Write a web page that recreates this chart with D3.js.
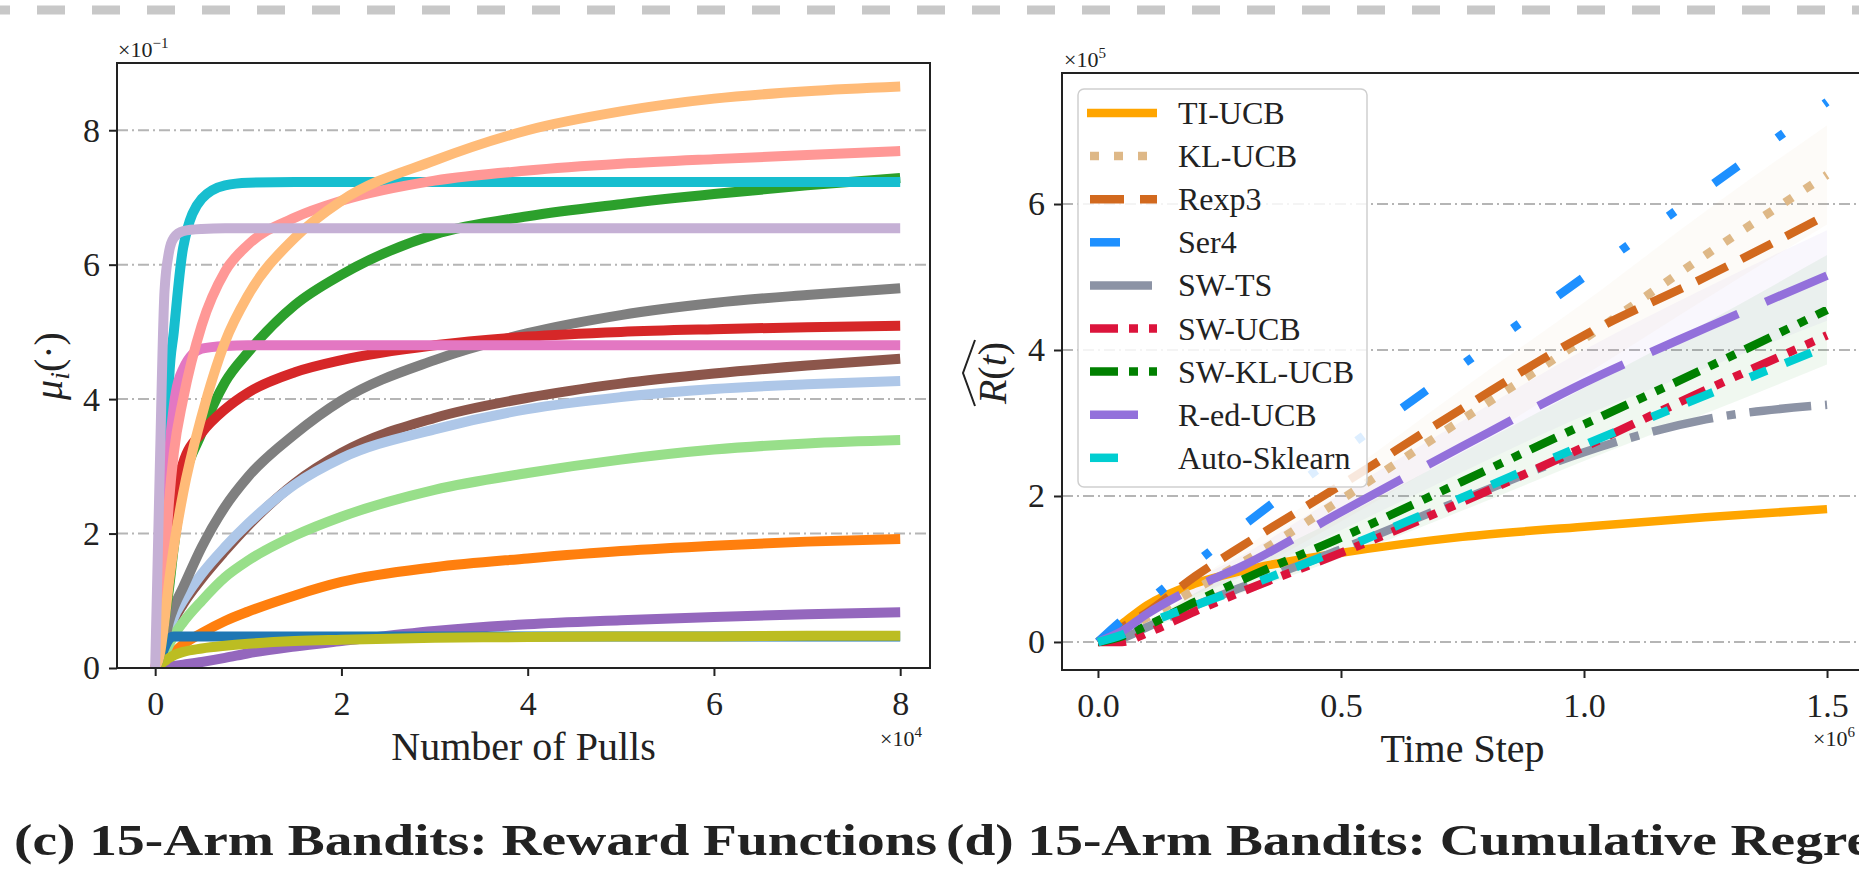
<!DOCTYPE html>
<html><head><meta charset="utf-8">
<script src="https://cdn.jsdelivr.net/npm/d3@7"></script>
<style>
html,body{margin:0;padding:0;background:#fff;}
svg{display:block;}
text{font-family:"Liberation Serif","DejaVu Serif",serif;fill:#222;}
</style></head>
<body>
<svg id="c" width="1859" height="873"></svg>
<script>
// ---------- Left chart data: reward functions (values x10^-1) ----------
const pullsX = [0, 0.05, 0.1, 0.15, 0.2, 0.3, 0.5, 0.75, 1, 1.5, 2, 3, 4, 5, 6, 7, 8]; // x10^4
const armBrown      = [0, 0.08, 0.28, 0.5, 0.7, 0.95, 1.33, 1.74, 2.12, 2.75, 3.2, 3.72, 4.02, 4.23, 4.38, 4.5, 4.6];
const armLightBlue  = [0, 0.1, 0.3, 0.55, 0.75, 1.0, 1.4, 1.8, 2.15, 2.73, 3.12, 3.55, 3.85, 4.03, 4.15, 4.22, 4.27];
const armOrange     = [0, 0.03, 0.1, 0.17, 0.23, 0.35, 0.52, 0.7, 0.84, 1.08, 1.28, 1.5, 1.63, 1.74, 1.82, 1.88, 1.92];
const armLightGreen = [0, 0.05, 0.2, 0.35, 0.48, 0.68, 1.0, 1.35, 1.6, 1.97, 2.25, 2.65, 2.9, 3.1, 3.25, 3.34, 3.39];
const armGray       = [0, 0.1, 0.4, 0.7, 0.9, 1.2, 1.8, 2.4, 2.85, 3.48, 3.98, 4.58, 4.98, 5.25, 5.43, 5.55, 5.65];
const armPurple     = [0, 0, 0.01, 0.02, 0.03, 0.05, 0.09, 0.15, 0.22, 0.32, 0.4, 0.55, 0.65, 0.71, 0.76, 0.8, 0.83];
const armBlue       = [0, 0.12, 0.3, 0.43, 0.47, 0.47, 0.47, 0.47, 0.47, 0.47, 0.47, 0.47, 0.47, 0.47, 0.47, 0.47, 0.47];
const armOlive      = [0, 0.05, 0.1, 0.15, 0.19, 0.24, 0.29, 0.33, 0.36, 0.4, 0.42, 0.45, 0.46, 0.47, 0.47, 0.48, 0.48];
const armGreen      = [0, 0.2, 0.7, 1.2, 1.8, 2.7, 3.5, 4.25, 4.7, 5.4, 5.85, 6.45, 6.72, 6.9, 7.05, 7.18, 7.29];
const armCyan       = [0, 0.3, 2.2, 4.3, 5.0, 6.25, 6.98, 7.18, 7.22, 7.23, 7.23, 7.23, 7.23, 7.23, 7.23, 7.23, 7.23];
const armRed        = [0, 0.3, 1.0, 1.8, 2.5, 3.05, 3.5, 3.85, 4.1, 4.4, 4.58, 4.8, 4.93, 5.0, 5.04, 5.07, 5.09];
const armPink       = [0, 0.5, 2.0, 3.2, 3.9, 4.45, 4.75, 4.79, 4.8, 4.8, 4.8, 4.8, 4.8, 4.8, 4.8, 4.8, 4.8];
const armLightRed   = [0, 0.5, 1.5, 2.5, 3.2, 4.0, 5.1, 5.9, 6.3, 6.7, 6.95, 7.25, 7.4, 7.5, 7.57, 7.63, 7.69];
const armLightOrange= [0, 0.2, 0.7, 1.3, 1.8, 2.6, 3.75, 4.85, 5.55, 6.4, 6.95, 7.55, 8.0, 8.28, 8.47, 8.58, 8.65];
const armLightPurple= [0, 3.0, 5.6, 6.2, 6.4, 6.5, 6.53, 6.54, 6.54, 6.54, 6.54, 6.54, 6.54, 6.54, 6.54, 6.54, 6.54];
const armColors = ["#8c564b","#aec7e8","#ff7f0e","#98df8a","#7f7f7f","#9467bd","#1f77b4","#bcbd22",
                   "#2ca02c","#17becf","#d62728","#e377c2","#ff9896","#ffbb78","#c5b0d5"];
const armSeries = [armBrown, armLightBlue, armOrange, armLightGreen, armGray, armPurple, armBlue, armOlive,
                   armGreen, armCyan, armRed, armPink, armLightRed, armLightOrange, armLightPurple];
const leftYTicks = [0, 2, 4, 6, 8];
const leftXTicks = [0, 2, 4, 6, 8];

// ---------- Right chart data: cumulative regret (x10^5) ----------
const timeX = [0, 0.05, 0.1, 0.2, 0.3, 0.5, 0.75, 1.0, 1.25, 1.5]; // x10^6
const methods = ["TI-UCB","KL-UCB","Rexp3","Ser4","SW-TS","SW-UCB","SW-KL-UCB","R-ed-UCB","Auto-Sklearn"];
const regretTIUCB   = [0, 0.25, 0.5, 0.8, 0.98, 1.22, 1.44, 1.58, 1.71, 1.82];
const regretKLUCB   = [0, 0.15, 0.33, 0.72, 1.1, 1.95, 3.05, 4.15, 5.3, 6.4];
const regretRexp3   = [0, 0.2, 0.4, 0.9, 1.33, 2.15, 3.2, 4.2, 5.0, 5.85];
const regretSer4    = [0, 0.3, 0.55, 1.08, 1.6, 2.6, 3.8, 5.0, 6.2, 7.4];
const regretSWTS    = [0, 0.05, 0.2, 0.5, 0.76, 1.27, 1.95, 2.6, 3.05, 3.25];
const regretSWUCB   = [0, 0.0, 0.12, 0.42, 0.7, 1.22, 1.92, 2.67, 3.45, 4.2];
const regretSWKLUCB = [0, 0.08, 0.22, 0.55, 0.86, 1.43, 2.2, 2.98, 3.75, 4.55];
const regretRedUCB  = [0, 0.15, 0.38, 0.75, 1.05, 1.78, 2.68, 3.55, 4.3, 5.02];
const regretAutoSk  = [0, 0.1, 0.25, 0.5, 0.75, 1.27, 1.98, 2.7, 3.38, 4.05];
const spreadKLUCB   = [0, 0.02, 0.05, 0.12, 0.18, 0.3, 0.42, 0.5, 0.6, 0.68];
const spreadRedUCB  = [0, 0.02, 0.04, 0.1, 0.15, 0.25, 0.35, 0.45, 0.55, 0.62];
const spreadSWKLUCB = [0, 0.02, 0.05, 0.12, 0.18, 0.28, 0.4, 0.5, 0.62, 0.75];
const rightYTicks = [0, 2, 4, 6];
const rightXTicks = [0, 0.5, 1.0, 1.5];

const regretSeries = [regretTIUCB, regretKLUCB, regretRexp3, regretSer4, regretSWTS, regretSWUCB, regretSWKLUCB, regretRedUCB, regretAutoSk];
const regretSpread = [null, spreadKLUCB, null, null, null, null, spreadSWKLUCB, spreadRedUCB, null];
const methodColors = ["#FFA500","#DEB887","#D2691E","#1E90FF","#8C93A5","#DC143C","#008000","#9370DB","#00CED1"];
const methodDash   = [null,"9,15","34,16","30,48,8,50,8,48","62,14,9,14","28,11,9,11,9,11","28,11,9,11,9,11","95,30","28,40,18,20"];
const legendOffset = [0,0,0,0,0,0,0,47,0];

const svg = d3.select("#c");

// top dashed separator
svg.append("line").attr("x1",-18).attr("x2",1880).attr("y1",10).attr("y2",10)
  .attr("stroke","#c8c8c8").attr("stroke-width",9).attr("stroke-dasharray","28,27");

function gridLines(g, ticks, y, x0, x1){
  g.selectAll(null).data(ticks).enter().append("line")
   .attr("x1",x0).attr("x2",x1).attr("y1",d=>y(d)).attr("y2",d=>y(d))
   .attr("stroke","#b5b5b5").attr("stroke-width",2).attr("stroke-dasharray","11,4,2,4");
}
function styleAxis(g){
  g.select(".domain").remove();
  g.selectAll(".tick line").attr("stroke","#222").attr("stroke-width",2);
  g.selectAll(".tick text").style("font-family","'Liberation Serif',serif").style("font-size","34px").attr("fill","#222");
}

// ================= LEFT CHART =================
const L = {left:117, right:930, top:63, bottom:668};
const xL = d3.scaleLinear().domain([-0.41, 8.32]).range([L.left, L.right]);
const yL = d3.scaleLinear().domain([0, 9]).range([L.bottom, L.top]);
const gL = svg.append("g");
svg.append("defs").append("clipPath").attr("id","clipL").append("rect")
  .attr("x",L.left).attr("y",L.top).attr("width",L.right-L.left).attr("height",L.bottom-L.top);
gridLines(gL, leftYTicks.filter(d=>d>0), yL, L.left, L.right);
const lineL = d3.line().x((d,i)=>xL(pullsX[i])).y(d=>yL(d)).curve(d3.curveMonotoneX);
const gLines = gL.append("g").attr("clip-path","url(#clipL)");
armSeries.forEach((s,k)=>{
  gLines.append("path").attr("d",lineL(s)).attr("fill","none").attr("stroke",armColors[k])
    .attr("stroke-width",10).attr("stroke-linejoin","round").attr("stroke-linecap","butt");
});
gL.append("rect").attr("x",L.left).attr("y",L.top).attr("width",L.right-L.left).attr("height",L.bottom-L.top)
  .attr("fill","none").attr("stroke","#222").attr("stroke-width",2);
const axLy = gL.append("g").attr("transform",`translate(${L.left},0)`)
  .call(d3.axisLeft(yL).tickValues(leftYTicks).tickSize(8).tickPadding(9).tickFormat(d3.format("d")));
styleAxis(axLy);
const axLx = gL.append("g").attr("transform",`translate(0,${L.bottom})`)
  .call(d3.axisBottom(xL).tickValues(leftXTicks).tickSize(8).tickPadding(15).tickFormat(d3.format("d")));
styleAxis(axLx);
// multipliers
function mult(x,y,exp){
  const t = svg.append("text").attr("x",x).attr("y",y).style("font-size","22px");
  t.append("tspan").text("×10");
  t.append("tspan").attr("dy",-9).style("font-size","15px").text(exp);
}
mult(118,57,"−1");
mult(880,746,"4");
svg.append("text").attr("x",(L.left+L.right)/2).attr("y",760).attr("text-anchor","middle")
  .style("font-size","40px").text("Number of Pulls");
const ylab = svg.append("text").attr("transform","translate(62,366) rotate(-90)").attr("text-anchor","middle").style("font-size","40px");
ylab.append("tspan").style("font-style","italic").text("μ");
ylab.append("tspan").style("font-style","italic").style("font-size","28px").attr("dy",7).text("i");
ylab.append("tspan").attr("dy",-7).text("(·)");

// ================= RIGHT CHART =================
const R = {left:1062, right:1863, top:73, bottom:670};
const xR = d3.scaleLinear().domain([-0.074, 1.574]).range([R.left, R.right]);
const yR = d3.scaleLinear().domain([-0.384, 7.795]).range([R.bottom, R.top]);
const gR = svg.append("g");
svg.select("defs").append("clipPath").attr("id","clipR").append("rect")
  .attr("x",R.left).attr("y",R.top).attr("width",R.right-R.left).attr("height",R.bottom-R.top);
gridLines(gR, rightYTicks, yR, R.left, R.right);
const gRL = gR.append("g").attr("clip-path","url(#clipR)");
const areaR = d3.area().x((d,i)=>xR(timeX[i])).y0(d=>yR(d[0])).y1(d=>yR(d[1])).curve(d3.curveMonotoneX);
regretSeries.forEach((s,k)=>{
  const sp = regretSpread[k];
  if(!sp) return;
  gRL.append("path").attr("d",areaR(s.map((v,i)=>[v-sp[i], v+sp[i]])))
    .attr("fill",methodColors[k]).attr("fill-opacity",0.06).attr("stroke","none");
});
const lineR = d3.line().x((d,i)=>xR(timeX[i])).y(d=>yR(d)).curve(d3.curveMonotoneX);
regretSeries.forEach((s,k)=>{
  const p = gRL.append("path").attr("d",lineR(s)).attr("fill","none").attr("stroke",methodColors[k])
    .attr("stroke-width",8.5).attr("stroke-linejoin","round").attr("stroke-linecap","butt");
  if(methodDash[k]) p.attr("stroke-dasharray",methodDash[k]);
});
gR.append("rect").attr("x",R.left).attr("y",R.top).attr("width",R.right-R.left).attr("height",R.bottom-R.top)
  .attr("fill","none").attr("stroke","#222").attr("stroke-width",2);
const axRy = gR.append("g").attr("transform",`translate(${R.left},0)`)
  .call(d3.axisLeft(yR).tickValues(rightYTicks).tickSize(8).tickPadding(9).tickFormat(d3.format("d")));
styleAxis(axRy);
const axRx = gR.append("g").attr("transform",`translate(0,${R.bottom})`)
  .call(d3.axisBottom(xR).tickValues(rightXTicks).tickSize(8).tickPadding(15).tickFormat(d3.format(".1f")));
styleAxis(axRx);
mult(1064,67,"5");
mult(1813,746,"6");
svg.append("text").attr("x",(R.left+R.right)/2).attr("y",762).attr("text-anchor","middle")
  .style("font-size","40px").text("Time Step");
// R(t) with wide hat
const rl = svg.append("g").attr("transform","translate(1006,373) rotate(-90)");
const rt = rl.append("text").attr("text-anchor","middle").style("font-size","40px");
rt.append("tspan").style("font-style","italic").text("R");
rt.append("tspan").text("(");
rt.append("tspan").style("font-style","italic").text("t");
rt.append("tspan").text(")");
rl.append("path").attr("d","M-33,-31 L0,-43 L33,-31").attr("fill","none").attr("stroke","#222").attr("stroke-width",2);

// legend
const lg = svg.append("g");
lg.append("rect").attr("x",1078).attr("y",89).attr("width",289).attr("height",398).attr("rx",6)
  .attr("fill","#fff").attr("fill-opacity",0.85).attr("stroke","#cfcfcf").attr("stroke-width",1.5);
methods.forEach((m,k)=>{
  const y = 113 + k*43.1;
  const l = lg.append("line").attr("x1",k===0?1087:1090).attr("x2",1157).attr("y1",y).attr("y2",y)
    .attr("stroke",methodColors[k]).attr("stroke-width",8.5);
  if(methodDash[k]) l.attr("stroke-dasharray",methodDash[k]).attr("stroke-dashoffset",legendOffset[k]);
  lg.append("text").attr("x",1178).attr("y",y+11).style("font-size","32px").text(m);
});

// captions
const cap1 = svg.append("text").attr("x",14).attr("y",855)
  .style("font-family","'Liberation Serif',serif").style("font-weight","bold").style("font-size","44px")
  .text("(c) 15-Arm Bandits: Reward Functions");
const cap2 = svg.append("text").attr("x",946).attr("y",855)
  .style("font-family","'Liberation Serif',serif").style("font-weight","bold").style("font-size","44px")
  .text("(d) 15-Arm Bandits: Cumulative Regret");
const n1 = cap1.node().getComputedTextLength();
const n2 = cap2.node().getComputedTextLength();
const f = 923 / n1;
cap1.attr("textLength",923).attr("lengthAdjust","spacingAndGlyphs");
cap2.attr("textLength",n2*f).attr("lengthAdjust","spacingAndGlyphs");
</script>
</body></html>
